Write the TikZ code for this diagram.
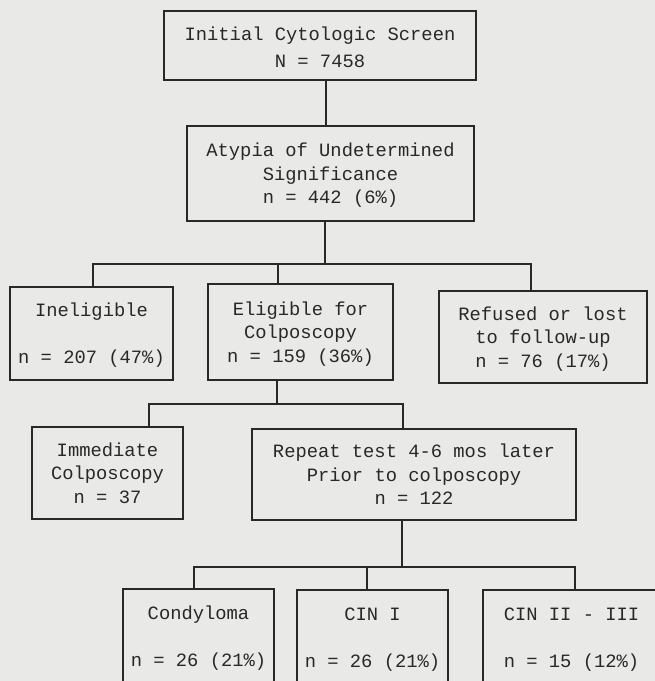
\documentclass[tikz,border=0pt]{standalone}
\usepackage{fontspec}
\newfontfamily\mono{Liberation Mono}
\definecolor{bg}{RGB}{233,233,231}
\definecolor{ink}{RGB}{40,40,40}
\newcommand\myup[1]{\rule{0pt}{\dimexpr16.45pt+#1\relax}}
\begin{document}
\begin{tikzpicture}[x=1pt,y=-1pt,
  box/.style={draw=ink, line width=1.4pt, inner sep=0pt, align=center,
    font=\mono\fontsize{18.8}{23.5}\selectfont, text=ink},
  conn/.style={draw=ink, line width=1.4pt}]
\fill[bg] (0,0) rectangle (655,681);
\useasboundingbox (0,0) rectangle (655,681);
\begin{scope}
\clip (0,0) rectangle (655,681);
% level 0 and 1
\node[box, minimum width=312pt, minimum height=69pt] (top) at (320,45.5)
  {\myup{8pt}\strut Initial Cytologic Screen\\[3.5pt]\strut N = 7458};
\node[box, minimum width=287pt, minimum height=95pt] (atyp) at (330.5,173.5)
  {\myup{4pt}\strut Atypia of Undetermined\\\strut Significance\\\strut n = 442 (6\%)};
% level 2
\node[box, minimum width=163pt, minimum height=93pt] (inel) at (91.5,333.5)
  {\myup{4pt}\strut Ineligible\\[23.5pt]\strut n = 207 (47\%)};
\node[box, minimum width=185pt, minimum height=96pt] (elig) at (300.5,332)
  {\myup{4pt}\strut Eligible for\\\strut Colposcopy\\\strut n = 159 (36\%)};
\node[box, minimum width=208pt, minimum height=92pt] (ref) at (543,337)
  {\myup{4pt}\strut Refused or lost\\\strut to follow-up\\\strut n = 76 (17\%)};
% level 3
\node[box, minimum width=151pt, minimum height=92pt] (imm) at (107.5,473)
  {\myup{4pt}\strut Immediate\\\strut Colposcopy\\\strut n = 37};
\node[box, minimum width=324pt, minimum height=91pt] (rep) at (414,474.5)
  {\myup{4pt}\strut Repeat test 4-6 mos later\\\strut Prior to colposcopy\\\strut n = 122};
% level 4
\node[box, minimum width=151pt, minimum height=95pt] (cond) at (198.5,636.5)
  {\myup{4pt}\strut Condyloma\\[23.5pt]\strut n = 26 (21\%)};
\node[box, minimum width=151pt, minimum height=94pt] (cin1) at (372.5,637)
  {\myup{4pt}\strut CIN I\\[23.5pt]\strut n = 26 (21\%)};
\node[box, minimum width=177pt, minimum height=94pt] (cin2) at (571.5,637)
  {\myup{4pt}\strut CIN II - III\\[23.5pt]\strut n = 15 (12\%)};
% connectors
\coordinate (a1) at (326,0);
\draw[conn] (top.south -| a1) -- (atyp.north -| a1);
\coordinate (j1) at (325,264);
\coordinate (d1) at (93,264);
\coordinate (d2) at (278,264);
\coordinate (d3) at (531,264);
\draw[conn] (atyp.south -| j1) -- (j1);
\draw[conn] (inel.north -| d1) |- (d3) -- (ref.north -| d3);
\draw[conn] (d2) -- (elig.north -| d2);
\coordinate (j2) at (277,404);
\coordinate (e1) at (149,404);
\coordinate (e2) at (403,404);
\draw[conn] (elig.south -| j2) -- (j2);
\draw[conn] (imm.north -| e1) |- (e2) -- (rep.north -| e2);
\coordinate (j3) at (402,567);
\coordinate (f1) at (194,567);
\coordinate (f2) at (367,567);
\coordinate (f3) at (575,567);
\draw[conn] (rep.south -| j3) -- (j3);
\draw[conn] (cond.north -| f1) |- (f3) -- (cin2.north -| f3);
\draw[conn] (f2) -- (cin1.north -| f2);
\end{scope}
\end{tikzpicture}
\end{document}
